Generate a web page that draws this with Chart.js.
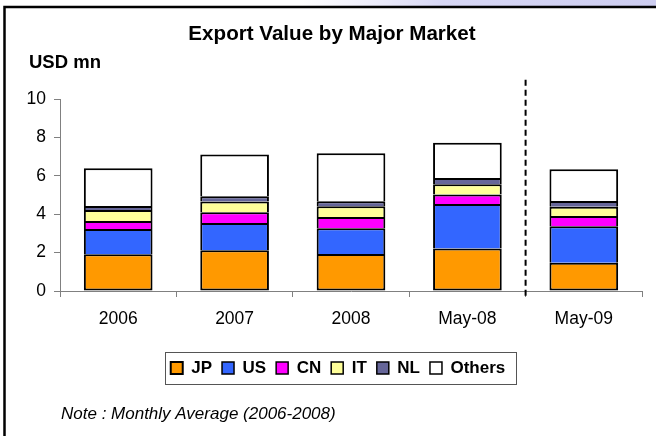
<!DOCTYPE html>
<html>
<head>
<meta charset="utf-8">
<script src="https://cdn.jsdelivr.net/npm/chart.js@4.4.1/dist/chart.umd.min.js"></script>
<style>
  html, body { margin: 0; padding: 0; background: #fff; }
  canvas { display: block; }
</style>
</head>
<body>
<canvas id="exportChart" width="656" height="436"></canvas>
<script>
// chart values (USD mn)
var categories = ['2006', '2007', '2008', 'May-08', 'May-09'];
var jpValues = [1.91, 2.12, 1.93, 2.22, 1.47];
var usValues = [1.32, 1.42, 1.34, 2.31, 1.90];
var cnValues = [0.42, 0.56, 0.58, 0.49, 0.54];
var itValues = [0.57, 0.56, 0.56, 0.54, 0.48];
var nlValues = [0.21, 0.27, 0.26, 0.33, 0.30];
var otherValues = [1.96, 2.18, 2.50, 1.83, 1.65];
var yTicks = [0, 2, 4, 6, 8, 10];

var chartTitle = 'Export Value by Major Market';
var unitLabel = 'USD mn';
var noteText = 'Note : Monthly Average (2006-2008)';

var fontFamily = '"Liberation Sans", Arial, Helvetica, sans-serif';

function makeSet(label, data, color, isBottom) {
  return {
    label: label,
    data: data,
    backgroundColor: color,
    borderColor: '#000',
    borderWidth: { top: 2, left: 2, right: 2, bottom: isBottom ? 2 : 0 },
    borderSkipped: false,
    categoryPercentage: 1,
    barPercentage: 0.59
  };
}

// frame, title, unit label, divider line, legend box and note
var decorations = {
  id: 'decorations',
  afterLayout: function (chart) {
    // nudge the legend a bit right, like the original
    var lg = chart.legend;
    if (lg) {
      lg.left += 12;
      lg.right += 12;
    }
  },
  beforeDraw: function (chart) {
    var ctx = chart.ctx;
    ctx.save();
    ctx.fillStyle = '#fff';
    ctx.fillRect(0, 0, chart.width, chart.height);
    var grad = ctx.createLinearGradient(300, 0, 656, 0);
    grad.addColorStop(0, 'rgba(225,225,248,0)');
    grad.addColorStop(0.4, 'rgba(215,215,245,1)');
    grad.addColorStop(1, 'rgba(205,205,240,1)');
    ctx.fillStyle = grad;
    ctx.fillRect(300, 0, 356, 6);
    ctx.restore();
  },
  afterDatasetsDraw: function (chart) {
    var ctx = chart.ctx;
    var x = chart.scales.x;
    var y = chart.scales.y;
    // dashed divider between May-08 and May-09
    var xd = (x.getPixelForValue(3) + x.getPixelForValue(4)) / 2;
    ctx.save();
    ctx.strokeStyle = '#000';
    ctx.lineWidth = 2;
    ctx.setLineDash([6, 4]);
    ctx.beginPath();
    ctx.moveTo(xd, y.getPixelForValue(11));
    ctx.lineTo(xd, y.getPixelForValue(0) + 5);
    ctx.stroke();
    ctx.restore();
  },
  afterDraw: function (chart) {
    var ctx = chart.ctx;
    ctx.save();
    // outer frame (left and top)
    ctx.strokeStyle = '#000';
    ctx.lineWidth = 2.5;
    ctx.beginPath();
    ctx.moveTo(4.5, chart.height);
    ctx.lineTo(4.5, 7);
    ctx.lineTo(chart.width, 7);
    ctx.stroke();

    ctx.fillStyle = '#000';
    ctx.textBaseline = 'alphabetic';
    ctx.textAlign = 'center';
    ctx.font = 'bold 20.6px ' + fontFamily;
    ctx.fillText(chartTitle, 332, 40);

    ctx.textAlign = 'left';
    ctx.font = 'bold 18.5px ' + fontFamily;
    ctx.fillText(unitLabel, 29, 68);

    ctx.font = 'italic 17px ' + fontFamily;
    ctx.fillText(noteText, 61, 419);

    // border round the legend, from the legend's own geometry
    var lg = chart.legend;
    if (lg && lg.lineWidths) {
      var pad = lg.options.labels.padding;
      var rowW = lg.lineWidths[0];
      var startX = (lg.left + pad + lg.right - rowW) / 2;
      var endX = startX + rowW - pad;
      var topY = lg.top + pad;
      ctx.strokeStyle = '#555';
      ctx.lineWidth = 1;
      ctx.setLineDash([]);
      ctx.strokeRect(Math.round(startX - 6) + 0.5, Math.round(topY - 8) + 0.5,
        Math.round(endX + 10 - (startX - 6)), 32);
    }
    ctx.restore();
  }
};

var ctx = document.getElementById('exportChart').getContext('2d');
var chart = new Chart(ctx, {
  type: 'bar',
  data: {
    labels: categories,
    datasets: [
      makeSet('JP', jpValues, '#FF9900', true),
      makeSet('US', usValues, '#3366FF', false),
      makeSet('CN', cnValues, '#FF00FF', false),
      makeSet('IT', itValues, '#FFFF99', false),
      makeSet('NL', nlValues, '#666699', false),
      makeSet('Others', otherValues, '#FFFFFF', false)
    ]
  },
  options: {
    responsive: false,
    animation: false,
    layout: { padding: { top: 99, left: 10, right: 14, bottom: 49.5 } },
    plugins: {
      title: { display: false },
      tooltip: { enabled: false },
      legend: {
        position: 'bottom',
        labels: {
          boxWidth: 12,
          boxHeight: 12,
          padding: 10,
          color: '#000',
          font: { family: fontFamily, size: 17, weight: 'bold' }
        }
      }
    },
    scales: {
      x: {
        stacked: true,
        offset: true,
        grid: { offset: true, drawOnChartArea: false, tickLength: 6, color: '#808080' },
        border: { color: '#808080', width: 1 },
        ticks: { color: '#000', padding: 12, font: { family: fontFamily, size: 17.5 } },
        afterFit: function (scale) { scale.height = 58.5; }
      },
      y: {
        stacked: true,
        min: 0,
        max: 10,
        afterBuildTicks: function (scale) {
          scale.ticks = yTicks.map(function (v) { return { value: v }; });
        },
        grid: { drawOnChartArea: false, tickLength: 6, color: '#808080' },
        border: { color: '#808080', width: 1 },
        ticks: { color: '#000', padding: 8, font: { family: fontFamily, size: 17.5 } },
        afterFit: function (scale) { scale.width = 50; }
      }
    }
  },
  plugins: [decorations]
});
</script>
</body>
</html>
